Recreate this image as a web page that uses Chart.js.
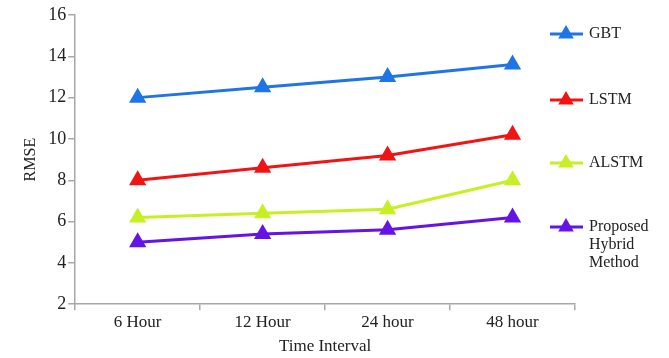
<!DOCTYPE html>
<html>
<head>
<meta charset="utf-8">
<script src="https://cdn.jsdelivr.net/npm/chart.js@4.4.0/dist/chart.umd.min.js"></script>
<style>
  html, body { margin: 0; padding: 0; background: #fff; }
  #wrap { width: 669px; height: 358px; }
</style>
</head>
<body>
<div id="wrap"><canvas id="rmse"></canvas></div>
<script>
const intervals = ['6 Hour', '12 Hour', '24 hour', '48 hour']
const gbt = [12.0, 12.5, 13.0, 13.6]
const lstm = [8.0, 8.6, 9.2, 10.2]
const alstm = [6.2, 6.4, 6.6, 8.0]
const hybrid = [5.0, 5.4, 5.6, 6.2]

const serif = "'Liberation Serif', 'DejaVu Serif', serif"
const axisGrey = '#a8a8a8'

Chart.defaults.font.family = serif
Chart.defaults.color = '#222'

function series(label, data, color) {
  return {
    label: label,
    data: data,
    borderColor: color,
    backgroundColor: color,
    borderWidth: 3,
    pointStyle: 'triangle',
    pointRadius: 7,
    pointHoverRadius: 7,
    tension: 0
  }
}

// legend drawn by hand on the right, one line per item (last one wraps)
const sideLegend = {
  id: 'sideLegend',
  afterDraw(chart) {
    const ctx = chart.ctx
    const rows = [34, 100, 163, 227]
    const names = [['GBT'], ['LSTM'], ['ALSTM'], ['Proposed', 'Hybrid', 'Method']]
    ctx.save()
    chart.data.datasets.forEach((ds, i) => {
      const y = rows[i]
      ctx.strokeStyle = ds.borderColor
      ctx.fillStyle = ds.borderColor
      ctx.lineWidth = 3
      ctx.beginPath()
      ctx.moveTo(550, y)
      ctx.lineTo(583, y)
      ctx.stroke()
      Chart.helpers.drawPoint(ctx, { pointStyle: 'triangle', radius: 6, borderWidth: 1 }, 566, y)
      ctx.fillStyle = '#222'
      ctx.font = '16px ' + serif
      ctx.textBaseline = 'middle'
      names[i].forEach((t, k) => ctx.fillText(t, 589, y + k * 18))
    })
    ctx.restore()
  }
}

new Chart(document.getElementById('rmse'), {
  type: 'line',
  data: {
    labels: intervals,
    datasets: [
      series('GBT', gbt, '#1f74e6'),
      series('LSTM', lstm, '#f01414'),
      series('ALSTM', alstm, '#c6f024'),
      series('Proposed Hybrid Method', hybrid, '#6414e6')
    ]
  },
  options: {
    responsive: true,
    maintainAspectRatio: false,
    animation: false,
    layout: { padding: { top: 15, right: 94, bottom: 1, left: 21 } },
    plugins: {
      legend: { display: false },
      tooltip: { enabled: false }
    },
    scales: {
      x: {
        offset: true,
        grid: { offset: true, drawOnChartArea: false, color: axisGrey, tickLength: 6, lineWidth: 1.5 },
        border: { color: axisGrey, width: 1.5 },
        ticks: { font: { size: 17, family: serif }, padding: 2, color: '#222' },
        title: { display: true, text: 'Time Interval', font: { size: 17, family: serif }, padding: { top: 2, bottom: 0 }, color: '#222' }
      },
      y: {
        min: 2,
        max: 16,
        grid: { drawOnChartArea: false, color: axisGrey, tickLength: 7, lineWidth: 1.5 },
        border: { color: axisGrey, width: 1.5 },
        ticks: { stepSize: 2, font: { size: 18, family: serif }, padding: 2, color: '#222' },
        title: { display: true, text: 'RMSE', font: { size: 16, family: serif }, padding: { top: 0, bottom: 6 }, color: '#222' }
      }
    }
  },
  plugins: [sideLegend]
})
</script>
</body>
</html>
